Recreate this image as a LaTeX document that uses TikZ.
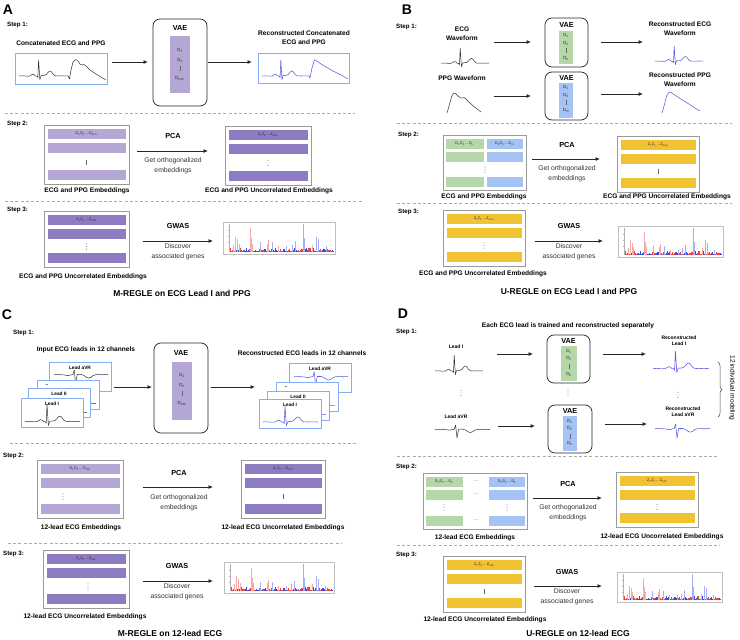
\documentclass[tikz,border=0pt]{standalone}
\usepackage{fontspec}
\setmainfont{Liberation Sans}
\usetikzlibrary{arrows.meta,decorations.pathreplacing}
\definecolor{lpurple}{HTML}{B4A7D6}
\definecolor{dpurple}{HTML}{8E7CC3}
\definecolor{lgreen}{HTML}{B6D7A8}
\definecolor{lblue}{HTML}{A4C2F4}
\definecolor{gold}{HTML}{F1C232}
\definecolor{cardblue}{HTML}{86AEF2}
\definecolor{reconwave}{HTML}{5A5AE6}
\definecolor{wavegray}{HTML}{333333}
\definecolor{dashgray}{HTML}{AAAAAA}
\definecolor{boxgray}{HTML}{9A9A9A}
\definecolor{mred}{HTML}{E8453C}
\definecolor{mblue}{HTML}{3B4BE0}
\newcommand\sbs[1]{\textsubscript{#1}}
\newcommand\Dseq[1]{D\sbs{1}D\sbs{2}\,...\,D\sbs{#1}}
\newcommand\Zseq[1]{Z\sbs{1}Z\sbs{2}\,...\,Z\sbs{#1}}
\tikzset{
 lbl/.style={font=\fontsize{6.6}{8.6}\selectfont\bfseries, align=center, inner sep=0pt},
 smlbl/.style={font=\fontsize{5}{5.8}\selectfont\bfseries, align=center, inner sep=0pt},
 steplbl/.style={font=\fontsize{6.2}{7}\selectfont\bfseries, anchor=west, inner sep=0pt},
 sublbl/.style={font=\fontsize{6.8}{9.6}\selectfont, align=center, inner sep=0pt, text=black!80},
 headlbl/.style={font=\fontsize{7.3}{8}\selectfont\bfseries, inner sep=0pt},
 titlelbl/.style={font=\fontsize{8.5}{10}\selectfont\bfseries, inner sep=0pt},
 panel/.style={font=\fontsize{14}{14}\selectfont\bfseries, inner sep=0pt},
 barlbl/.style={font=\fontsize{3.7}{4}\selectfont, inner sep=0pt, text=black!85},
 lat/.style={font=\fontsize{4.4}{5}\selectfont, inner sep=0pt, text=black!85},
 cardlbl/.style={font=\fontsize{4.8}{5}\selectfont\bfseries, inner sep=0pt},
 arr/.style={-{Latex[length=4.5pt,width=4pt]}, line width=0.8pt, draw=black!85},
 vaebox/.style={draw=black!85, line width=0.7pt, rounded corners=7pt, inner sep=0pt, outer sep=0pt},
 embbox/.style={draw=boxgray, line width=0.9pt, fill=white, inner sep=0pt, outer sep=0pt},
 wavebox/.style={draw=cardblue, line width=0.9pt, fill=white, inner sep=0pt, outer sep=0pt},
 sep/.style={draw=dashgray, dash pattern=on 3pt off 2.2pt, line width=0.6pt},
 wave/.style={draw=wavegray, line width=0.5pt, line join=round},
 rwave/.style={draw=reconwave, line width=0.55pt, line join=round},
}
% waveforms: #1 x-left, #2 y-bottom, #3 width, #4 height, #5 style
\newcommand\ecgw[5]{\begin{scope}[shift={(#1,#2)},xscale=#3,yscale=-#4]
\draw[#5] (0,.2) -- (.08,.21) -- (.16,.19) -- (.22,.2) -- (.25,.25) -- (.28,.29) -- (.31,.26) -- (.34,.2) -- (.37,.19) -- (.385,.12) -- (.40,1) -- (.425,.02) -- (.45,.22) -- (.52,.23) -- (.56,.28) -- (.6,.4) -- (.63,.45) -- (.66,.42) -- (.7,.28) -- (.74,.21) -- (.82,.2) -- (.9,.21) -- (1,.2);
\end{scope}}
\newcommand\avrw[5]{\begin{scope}[shift={(#1,#2)},xscale=#3,yscale=-#4]
\draw[#5] (0,.66) -- (.1,.67) -- (.18,.65) -- (.23,.62) -- (.27,.6) -- (.31,.65) -- (.35,.67) -- (.375,1) -- (.40,0) -- (.43,.68) -- (.5,.68) -- (.55,.62) -- (.6,.48) -- (.64,.42) -- (.68,.47) -- (.72,.6) -- (.78,.67) -- (.9,.66) -- (1,.67);
\end{scope}}
\newcommand\ppgw[5]{\begin{scope}[shift={(#1,#2)},xscale=#3,yscale=-#4]
\draw[#5] (0,0) -- (.06,.35) -- (.14,.85) -- (.2,1) -- (.26,.96) -- (.33,.84) -- (.4,.76) -- (.45,.75) -- (.5,.77) -- (.56,.7) -- (.66,.52) -- (.78,.34) -- (.9,.18) -- (1,.05);
\end{scope}}
\newcommand\rppgw[5]{\begin{scope}[shift={(#1,#2)},xscale=#3,yscale=-#4]
\draw[#5] plot[smooth,tension=0.5] coordinates {(0,0) (.05,.3) (.12,.8) (.2,1) (.3,.9) (.45,.72) (.6,.55) (.75,.38) (.9,.2) (1,.1)};
\end{scope}}
\newcommand\vdts[2]{\foreach \k in {-2.6,0,2.6}{\fill[black!70] ({#1},{#2+(\k)}) circle (0.45pt);}}
\newcommand\vbar[2]{\draw[black!60, line width=0.45pt] ({#1},{#2-2.5}) -- ({#1},{#2+2.5});}
% embedding box: #1 name #2 x #3 y #4 w #5 h #6 colour #7 text #8 mid macro #9 mid x offset
\newcommand\embbox[9]{%
  \node[embbox, anchor=north west, minimum width=#4pt, minimum height=#5pt] (#1) at (#2,#3) {};
  \fill[#6] ({#2+3.5},{#3+4}) rectangle ({#2+#4-3.5},{#3+14});
  \fill[#6] ({#2+3.5},{#3+18}) rectangle ({#2+#4-3.5},{#3+28});
  \fill[#6] ({#2+3.5},{#3+#5-14}) rectangle ({#2+#4-3.5},{#3+#5-4});
  \node[barlbl] (#1-t) at ({#2+#4/2},{#3+9}) {#7};
  #8{#2+#9}{#3+#5/2+7.5}%
}
\newcommand\manh[4]{\begin{scope}[shift={(#1,#2)}]
  \draw[black!25, line width=0.4pt] (0,0) rectangle (#3,#4);
  \draw[black!30, line width=0.3pt] (6,2) -- (6,#4-2);
  \draw[black!30, line width=0.3pt] (4.5,8) -- (6,8) (4.5,14) -- (6,14) (4.5,20) -- (6,20);
  \pgfmathsetseed{11}
  \foreach \i in {0,...,170}{%
    \pgfmathsetmacro\xx{7+\i/170*(#3-9)}%
    \pgfmathtruncatemacro\blk{mod(floor(\i/8),2)}%
    \pgfmathsetmacro\rr{rnd}%
    \pgfmathsetmacro\hh{1+3.5*\rr*\rr*\rr}%
    \ifnum\blk=0 \def\cc{mred}\else\def\cc{mblue}\fi
    \draw[\cc, line width=0.3pt] (\xx,#4-2) -- ++(0,-\hh);
  }
  \foreach \p/\q/\c in {.03/.25/mred,.05/.55/mred,.07/.45/mred,.09/.3/mred,.2/.85/mred,.21/.5/mred,.22/.3/mred,.29/.35/mblue,.36/.3/mred,.37/.42/mred,.41/.35/mblue,.47/.2/mred,.55/.2/mblue,.6/.25/mblue,.63/.38/mblue,.71/1.0/mblue,.72/.5/mblue,.8/.25/mred,.84/.55/mblue,.86/.45/mblue,.93/.2/mblue}{%
    \draw[\c!45, line width=0.35pt] ({7+\p*(#3-9)},#4-2) -- ++(0,{-\q*(#4-4)});
  }
\end{scope}}
% card: #1 name #2 x #3 y #4 label #5 label x offset
\newcommand\card[5]{%
  \node[wavebox, anchor=north west, minimum width=62pt, minimum height=29pt] (#1) at (#2,#3) {};
  \node[cardlbl] (#1-t) at ({#2+#5},{#3+6}) {#4};
}
\begin{document}
\begin{tikzpicture}[x=1pt,y=-1pt]
\useasboundingbox[fill=white] (0,0) rectangle (740,640);

%%%%%%%%%%%%%%%%%%%% PANEL A
\node[panel] (pA) at (8,10) {A};
\node[steplbl] (sA1) at (7,25) {Step 1:};
\node[lbl] (tA1) at (61,43) {Concatenated ECG and PPG};
\node[wavebox, anchor=north west, minimum width=92pt, minimum height=31pt] (wA1) at (15,53) {};
\ecgw{19}{80}{49}{20}{wave}
\draw[wave] (68,76) -- (69.5,79) -- (71,70) -- (73,62) -- (75.5,59.5) -- (78,61) -- (80,64) -- (82,65) -- (84,64.5) -- (86,66) -- (90,70) -- (96,74) -- (106,80);
\node[vaebox, anchor=north west, minimum width=54pt, minimum height=87pt] (vA) at (153,19) {};
\node[headlbl] (vAt) at (180,28) {VAE};
\fill[lpurple] (170,36) rectangle (190,93);
\node[lat] (vA1) at (180,50) {D\sbs{1}};
\node[lat] (vA2) at (180,60) {D\sbs{2}};
\vbar{180}{68}
\node[lat] (vA3) at (180,78) {D\sbs{k+m}};
\coordinate (aA1s) at (112,62); \coordinate (aA1e) at (148,62);
\draw[arr] (aA1s) -- (aA1e);
\coordinate (aA2s) at (208,62); \coordinate (aA2e) at (252,62);
\draw[arr] (aA2s) -- (aA2e);
\node[lbl] (tA2) at (304,37.5) {Reconstructed Concatenated\\ECG and PPG};
\node[wavebox, anchor=north west, minimum width=91pt, minimum height=30pt] (wA2) at (258,53) {};
\ecgw{262}{80}{47}{20}{rwave}
\draw[rwave] (309,76) -- (310,78) -- (312,68) -- (314.5,60) -- (317,61) -- (321,64) -- (326,67) -- (333,71) -- (341,75) -- (348,79);
\coordinate (dA1a) at (5,113); \coordinate (dA1b) at (355,113);
\draw[sep] (dA1a) -- (dA1b);
\node[steplbl] (sA2) at (7,124) {Step 2:};
\embbox{eA2}{44}{125}{85}{59}{lpurple}{\Dseq{k+m}}{\vbar}{42.5}
\node[lbl] (lA2) at (87,191) {ECG and PPG Embeddings};
\node[headlbl] (pcaA) at (173,136) {PCA};
\coordinate (aA3s) at (137,151); \coordinate (aA3e) at (208,151);
\draw[arr] (aA3s) -- (aA3e);
\node[sublbl] (gA) at (173,166) {Get orthogonalized\\embeddings};
\embbox{eA2r}{225}{126}{86}{59}{dpurple}{\Zseq{k+m}}{\vdts}{43}
\node[lbl] (lA2r) at (269,191) {ECG and PPG Uncorrelated Embeddings};
\coordinate (dA2a) at (5,201); \coordinate (dA2b) at (362,201);
\draw[sep] (dA2a) -- (dA2b);
\node[steplbl] (sA3) at (7,210) {Step 3:};
\embbox{eA3}{44}{211}{85}{56}{dpurple}{\Zseq{k+m}}{\vdts}{42.5}
\node[lbl] (lA3) at (83,277) {ECG and PPG Uncorrelated Embeddings};
\node[headlbl] (gwA) at (178,226) {GWAS};
\coordinate (aA4s) at (143,241); \coordinate (aA4e) at (213,241);
\draw[arr] (aA4s) -- (aA4e);
\node[sublbl] (dgA) at (178,251.5) {Discover\\associated genes};
\manh{223}{222}{112}{32}
\node[titlelbl] (ttA) at (182,293) {M-REGLE on ECG Lead I and PPG};

%%%%%%%%%%%%%%%%%%%% PANEL B
\node[panel] (pB) at (407,10) {B};
\node[steplbl] (sB1) at (396,27) {Step 1:};
\node[lbl] (tB1) at (462,34) {ECG\\Waveform};
\ecgw{441}{67}{48}{19}{wave}
\node[lbl] (tB2) at (462,78) {PPG Waveform};
\ppgw{447}{113}{34}{20}{wave}
\node[vaebox, anchor=north west, minimum width=43pt, minimum height=49pt] (vB1) at (545,18) {};
\node[headlbl] (vB1t) at (566.5,25) {VAE};
\fill[lgreen] (559,31) rectangle (573,64);
\node[lat] (vB11) at (566,35.5) {D\sbs{1}};
\node[lat] (vB12) at (566,43) {D\sbs{2}};
\vbar{566}{50.5}
\node[lat] (vB13) at (566,58) {D\sbs{k}};
\node[vaebox, anchor=north west, minimum width=43pt, minimum height=48pt] (vB2) at (545,72) {};
\node[headlbl] (vB2t) at (566.5,78) {VAE};
\fill[lblue] (559,83) rectangle (573,118);
\node[lat] (vB21) at (566,87.5) {D\sbs{1}};
\node[lat] (vB22) at (566,95) {D\sbs{2}};
\vbar{566}{102.5}
\node[lat] (vB23) at (566,110) {D\sbs{m}};
\coordinate (aB1s) at (494,42); \coordinate (aB1e) at (531,42);
\draw[arr] (aB1s) -- (aB1e);
\coordinate (aB2s) at (494,96); \coordinate (aB2e) at (531,96);
\draw[arr] (aB2s) -- (aB2e);
\coordinate (aB3s) at (601,42); \coordinate (aB3e) at (643,42);
\draw[arr] (aB3s) -- (aB3e);
\coordinate (aB4s) at (601,94); \coordinate (aB4e) at (643,94);
\draw[arr] (aB4s) -- (aB4e);
\node[lbl] (tB3) at (680,28.5) {Reconstructed ECG\\Waveform};
\ecgw{655}{65}{48}{19}{rwave}
\node[lbl] (tB4) at (680,79.5) {Reconstructed PPG\\Waveform};
\rppgw{662}{113}{38}{21}{rwave}
\coordinate (dB1a) at (397,123); \coordinate (dB1b) at (732,123);
\draw[sep] (dB1a) -- (dB1b);
\node[steplbl] (sB2) at (398,135) {Step 2:};
\node[embbox, anchor=north west, minimum width=83pt, minimum height=55pt] (eB2) at (443,135) {};
\foreach \ya/\yb in {139/148.5,152/162,177/187}{
  \fill[lgreen] (446,\ya) rectangle (483.5,\yb);
  \fill[lblue] (486.5,\ya) rectangle (523,\yb);
}
\node[barlbl] (eB2-t1) at (464.5,143.7) {\Dseq{k}};
\node[barlbl] (eB2-t2) at (504.5,143.7) {\Dseq{m}};
\vdts{485}{169.5}
\node[lbl] (lB2) at (484,197) {ECG and PPG Embeddings};
\node[headlbl] (pcaB) at (567,145) {PCA};
\coordinate (aB5s) at (532,159); \coordinate (aB5e) at (600,159);
\draw[arr] (aB5s) -- (aB5e);
\node[sublbl] (gB) at (567,173.5) {Get orthogonalized\\embeddings};
\embbox{eB2r}{617}{136}{82}{56}{gold}{\Zseq{k+m}}{\vbar}{41}
\node[lbl] (lB2r) at (667,197) {ECG and PPG Uncorrelated Embeddings};
\coordinate (dB2a) at (397,203); \coordinate (dB2b) at (732,203);
\draw[sep] (dB2a) -- (dB2b);
\node[steplbl] (sB3) at (398,212) {Step 3:};
\embbox{eB3}{443}{210}{82}{56}{gold}{\Zseq{k+m}}{\vdts}{41}
\node[lbl] (lB3) at (483,274) {ECG and PPG Uncorrelated Embeddings};
\node[headlbl] (gwB) at (569,226) {GWAS};
\coordinate (aB6s) at (535,241); \coordinate (aB6e) at (603,241);
\draw[arr] (aB6s) -- (aB6e);
\node[sublbl] (dgB) at (569,251.5) {Discover\\associated genes};
\manh{618}{226}{105}{31}
\node[titlelbl] (ttB) at (569,291) {U-REGLE on ECG Lead I and PPG};

%%%%%%%%%%%%%%%%%%%% PANEL C
\node[panel] (pC) at (7,315) {C};
\node[steplbl] (sC1) at (13,333) {Step 1:};
\node[lbl] (tC1) at (86,350) {Input ECG leads in 12 channels};
\card{cC4}{49}{362}{Lead aVR}{31}
\avrw{54}{384}{54}{14}{wave}
\card{cC3}{37}{380}{--}{10}
\ecgw{41}{407}{55}{18}{wave}
\card{cC2}{28}{388}{Lead II}{31}
\ecgw{32}{416}{55}{18}{wave}
\card{cC1}{21}{398}{Lead I}{31}
\ecgw{25}{426}{55}{22}{wave}
\node[vaebox, anchor=north west, minimum width=54pt, minimum height=90pt] (vC) at (154,343) {};
\node[headlbl] (vCt) at (181,353) {VAE};
\fill[lpurple] (172,362) rectangle (192,420);
\node[lat] (vC1) at (182,375) {D\sbs{1}};
\node[lat] (vC2) at (182,385) {D\sbs{2}};
\vbar{182}{393}
\node[lat] (vC3) at (182,403) {D\sbs{12k}};
\coordinate (aC1s) at (114,387); \coordinate (aC1e) at (152,387);
\draw[arr] (aC1s) -- (aC1e);
\coordinate (aC2s) at (211,387); \coordinate (aC2e) at (255,387);
\draw[arr] (aC2s) -- (aC2e);
\node[lbl] (tC2) at (302,353) {Reconstructed ECG leads in 12 channels};
\card{cR4}{289}{363}{Lead aVR}{31}
\avrw{294}{386}{54}{14}{rwave}
\card{cR3}{276}{382}{--}{10}
\ecgw{280}{409}{55}{18}{rwave}
\card{cR2}{267}{391}{Lead II}{31}
\ecgw{271}{418}{55}{18}{rwave}
\card{cR1}{259}{399}{Lead I}{31}
\ecgw{263}{426}{55}{20}{rwave}
\coordinate (dC1a) at (10,443); \coordinate (dC1b) at (357,443);
\draw[sep] (dC1a) -- (dC1b);
\node[steplbl] (sC2) at (3,456) {Step 2:};
\embbox{eC2}{37}{460}{86}{58}{lpurple}{\Dseq{12k}}{\vdts}{26}
\node[lbl] (lC2) at (81,528) {12-lead ECG Embeddings};
\node[headlbl] (pcaC) at (179,473) {PCA};
\coordinate (aC3s) at (143,487); \coordinate (aC3e) at (213,487);
\draw[arr] (aC3s) -- (aC3e);
\node[sublbl] (gC) at (179,502.5) {Get orthogonalized\\embeddings};
\embbox{eC2r}{241}{460}{84}{58}{dpurple}{\Zseq{12k}}{\vbar}{42}
\node[lbl] (lC2r) at (283,528) {12-lead ECG Uncorrelated Embeddings};
\coordinate (dC2a) at (8,543); \coordinate (dC2b) at (342,543);
\draw[sep] (dC2a) -- (dC2b);
\node[steplbl] (sC3) at (3,554) {Step 3:};
\embbox{eC3}{43}{550}{86}{58}{dpurple}{\Zseq{12k}}{\vdts}{45}
\node[lbl] (lC3) at (85,617) {12-lead ECG Uncorrelated Embeddings};
\node[headlbl] (gwC) at (177,566) {GWAS};
\coordinate (aC4s) at (143,581); \coordinate (aC4e) at (213,581);
\draw[arr] (aC4s) -- (aC4e);
\node[sublbl] (dgC) at (177,591.5) {Discover\\associated genes};
\manh{224}{562}{110}{31}
\node[titlelbl] (ttC) at (170,633) {M-REGLE on 12-lead ECG};

%%%%%%%%%%%%%%%%%%%% PANEL D
\node[panel] (pD) at (403,314) {D};
\node[steplbl] (sD1) at (396,332) {Step 1:};
\node[lbl] (tD0) at (568,326) {Each ECG lead is trained and reconstructed separately};
\node[smlbl] (tD1) at (456,347) {Lead I};
\ecgw{435}{375}{48}{20}{wave}
\vdts{461}{393}
\node[smlbl] (tD2) at (456,417) {Lead aVR};
\avrw{435}{438}{55}{13}{wave}
\coordinate (aD1s) at (497,354); \coordinate (aD1e) at (533,354);
\draw[arr] (aD1s) -- (aD1e);
\coordinate (aD2s) at (498,426); \coordinate (aD2e) at (535,426);
\draw[arr] (aD2s) -- (aD2e);
\node[vaebox, anchor=north west, minimum width=43pt, minimum height=48pt] (vD1) at (547,335) {};
\node[headlbl] (vD1t) at (568.5,340.5) {VAE};
\fill[lgreen] (561,346) rectangle (577,381);
\node[lat] (vD11) at (569,351) {D\sbs{1}};
\node[lat] (vD12) at (569,358.5) {D\sbs{2}};
\vbar{569}{366}
\node[lat] (vD13) at (569,374) {D\sbs{k}};
\vdts{568}{393}
\node[vaebox, anchor=north west, minimum width=44pt, minimum height=48pt] (vD2) at (548,405) {};
\node[headlbl] (vD2t) at (570,411) {VAE};
\fill[lblue] (563,416) rectangle (577,451);
\node[lat] (vD21) at (570,421) {D\sbs{1}};
\node[lat] (vD22) at (570,428.5) {D\sbs{2}};
\vbar{570}{436}
\node[lat] (vD23) at (570,443.5) {D\sbs{k}};
\coordinate (aD3s) at (603,354); \coordinate (aD3e) at (646,354);
\draw[arr] (aD3s) -- (aD3e);
\coordinate (aD4s) at (605,424); \coordinate (aD4e) at (647,424);
\draw[arr] (aD4s) -- (aD4e);
\node[smlbl] (tD3) at (679,340.5) {Reconstructed\\Lead I};
\ecgw{653}{373}{56}{22}{rwave}
\vdts{678}{395}
\node[smlbl] (tD4) at (683,412) {Reconstructed\\Lead aVR};
\avrw{655}{438}{55}{14}{rwave}
\coordinate (brA) at (718,362); \coordinate (brB) at (718,417);
\draw[decorate, decoration={brace, amplitude=4pt}, line width=0.5pt, black!70] (brA) -- (brB);
\node[font=\fontsize{6.6}{7}\selectfont, rotate=-90, inner sep=0pt] (tD5) at (732,388) {12 individual modeling};
\coordinate (dD1a) at (397,456); \coordinate (dD1b) at (718,456);
\draw[sep] (dD1a) -- (dD1b);
\node[steplbl] (sD2) at (396,467) {Step 2:};
\node[embbox, anchor=north west, minimum width=104pt, minimum height=56pt] (eD2) at (423,473) {};
\foreach \ya/\yb in {477/487,490/500,516/526}{
  \fill[lgreen] (425.5,\ya) rectangle (463,\yb);
  \fill[lblue] (489,\ya) rectangle (524.5,\yb);
  \node[barlbl, font=\fontsize{4.5}{5}\selectfont] at (476,{(\ya+\yb)/2-1}) {...};
}
\node[barlbl] (eD2-t1) at (444,482) {\Dseq{k}};
\node[barlbl] (eD2-t2) at (507,482) {\Dseq{k}};
\vdts{444}{507.5}
\vdts{507}{507.5}
\node[lbl] (lD2) at (475,538) {12-lead ECG Embeddings};
\node[headlbl] (pcaD) at (568,484) {PCA};
\coordinate (aD5s) at (533,498); \coordinate (aD5e) at (602,498);
\draw[arr] (aD5s) -- (aD5e);
\node[sublbl] (gD) at (568,512.5) {Get orthogonalized\\embeddings};
\embbox{eD2r}{616}{472}{82}{55}{gold}{\Zseq{12k}}{\vdts}{41}
\node[lbl] (lD2r) at (662,537) {12-lead ECG Uncorrelated Embeddings};
\coordinate (dD2a) at (397,545); \coordinate (dD2b) at (720,545);
\draw[sep] (dD2a) -- (dD2b);
\node[steplbl] (sD3) at (396,555) {Step 3:};
\embbox{eD3}{443}{556}{82}{56}{gold}{\Zseq{12k}}{\vbar}{41}
\node[lbl] (lD3) at (485,620) {12-lead ECG Uncorrelated Embeddings};
\node[headlbl] (gwD) at (567,572) {GWAS};
\coordinate (aD6s) at (534,586); \coordinate (aD6e) at (602,586);
\draw[arr] (aD6s) -- (aD6e);
\node[sublbl] (dgD) at (567,597) {Discover\\associated genes};
\manh{617}{572}{105}{30}
\node[titlelbl] (ttD) at (578,633) {U-REGLE on 12-lead ECG};
\end{tikzpicture}
\end{document}
